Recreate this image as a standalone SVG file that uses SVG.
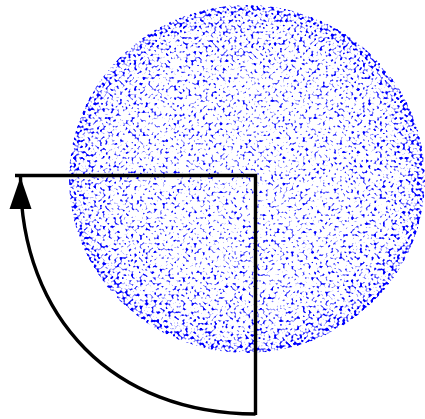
<svg xmlns="http://www.w3.org/2000/svg" width="425" height="419" viewBox="0 0 425 419">
  <style>
    .ln { fill: none; stroke: #000; stroke-width: 3.4; }
  </style>
  <defs>
    <radialGradient id="dens" cx="0.5" cy="0.5" r="0.5">
      <stop offset="0" stop-color="#000" stop-opacity="0"/>
      <stop offset="0.6" stop-color="#000" stop-opacity="0.01"/>
      <stop offset="0.85" stop-color="#000" stop-opacity="0.03"/>
      <stop offset="0.95" stop-color="#000" stop-opacity="0.06"/>
      <stop offset="1" stop-color="#000" stop-opacity="0.12"/>
    </radialGradient>
    <filter id="dots" x="0" y="0" width="1" height="1" color-interpolation-filters="sRGB">
      <feTurbulence type="fractalNoise" baseFrequency="0.35" numOctaves="1" seed="7" result="n"/>
      <feColorMatrix in="n" type="matrix" values="0 0 0 0 0  0 0 0 0 0  0 0 0 0 0  1 0 0 0 0" result="na"/>
      <feComposite in="na" in2="SourceAlpha" operator="arithmetic" k1="0" k2="1" k3="1" k4="0" result="sum"/>
      <feComponentTransfer in="sum" result="th">
        <feFuncA type="linear" slope="6" intercept="-3.45"/>
      </feComponentTransfer>
      <feFlood flood-color="#0000ff" result="blue"/>
      <feComposite in="blue" in2="th" operator="in"/>
    </filter>
    <clipPath id="clipE">
      <ellipse cx="247" cy="179" rx="178" ry="174"/>
    </clipPath>
    <marker id="arr" markerUnits="userSpaceOnUse" viewBox="-33 -12 34 24" refX="0" refY="0" markerWidth="34" markerHeight="24" orient="auto">
      <path d="M0,0 L-32,-11 L-32,11 Z" fill="#000"/>
    </marker>
  </defs>
  <g id="points" clip-path="url(#clipE)">
    <ellipse cx="247" cy="179" rx="178" ry="174" fill="url(#dens)" filter="url(#dots)"/>
  </g>
  <g id="frame">
    <path class="ln" d="M15,175.5 H255.5 V415"/>
  </g>
  <g id="connectors">
    <path class="ln" d="M255.5,414 C114.5,414 20.5,319 20.5,177" marker-end="url(#arr)"/>
  </g>
</svg>
